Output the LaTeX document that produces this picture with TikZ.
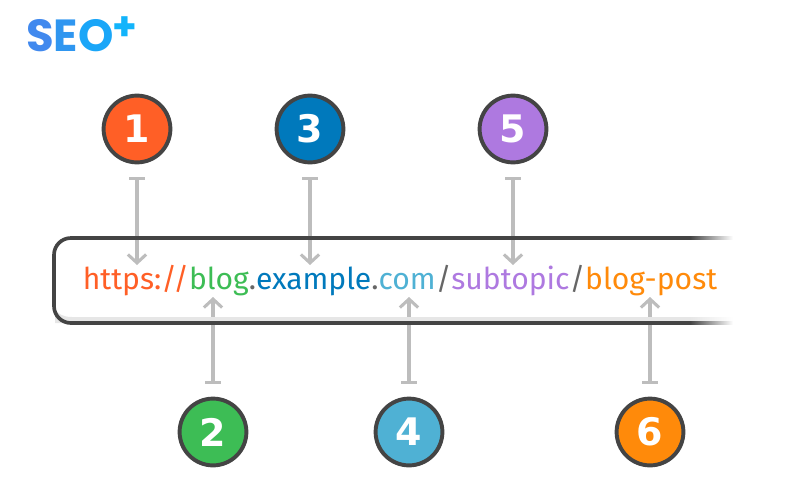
\documentclass[tikz,border=0pt]{standalone}
\usepackage{fontspec}
\usepackage{xcolor}
\usepackage{tikz}
\usetikzlibrary{arrows.meta}
\setmainfont{Fira Sans}
\newfontfamily\logofont{Poppins}
\newfontfamily\digitfont{DejaVu Sans}
\definecolor{edgedark}{HTML}{444444}
\definecolor{pointergray}{HTML}{BDBDBD}
\definecolor{bandgray}{HTML}{E6E6E6}
\definecolor{dotgray}{HTML}{666666}
\definecolor{partone}{HTML}{FF5F26}
\definecolor{parttwo}{HTML}{3DBD55}
\definecolor{partthree}{HTML}{0079BC}
\definecolor{partfour}{HTML}{4FB1D4}
\definecolor{partfive}{HTML}{AE79E0}
\definecolor{partsix}{HTML}{FF8A0A}
\tikzset{
    badge/.style = {circle, minimum size=47.5pt, inner sep=0pt, line width=2.8pt, draw=edgedark, text=white, font=\digitfont\bfseries\fontsize{27}{27}\selectfont},
    pointer/.style = {line width=2.2pt, draw=pointergray, {Bar[width=11pt,line width=2.2pt]}-{Straight Barb[length=6pt,width=13pt,line width=2.2pt]}, shorten <=9pt},
    barline/.style = {line width=2.6pt, draw=edgedark}
}

\begin{document}
\begin{tikzpicture}[x=0.025cm, y=-0.025cm]
\useasboundingbox (0,0) rectangle (800,500);

% logo
\node (logo) [inner sep=0pt, anchor=base west, font=\logofont\bfseries\fontsize{32}{32}\selectfont] at (26,51) {\textcolor[HTML]{4189EE}{S}\textcolor[HTML]{2F96F0}{E}\textcolor[HTML]{1AA6F8}{O}};
\node (plus) [inner sep=0pt, anchor=center, font=\logofont\bfseries\fontsize{28}{28}\selectfont] at (125,29) {\textcolor[HTML]{12B4FB}{+}};

% badges
\node (one) [badge, fill=partone] at (137,129) {1};
\node (three) [badge, fill=partthree] at (310,129) {3};
\node (five) [badge, fill=partfive] at (513,129) {5};
\node (two) [badge, fill=parttwo] at (213,432) {2};
\node (four) [badge, fill=partfour] at (409,432) {4};
\node (six) [badge, fill=partsix] at (650,432) {6};

% arrow tips
\coordinate (tipone) at (137,265);
\coordinate (tipthree) at (310,265);
\coordinate (tipfive) at (513,265);
\coordinate (tiptwo) at (213,297);
\coordinate (tipfour) at (409,297);
\coordinate (tipsix) at (650,297);

\draw [pointer] (one) -- (tipone);
\draw [pointer] (three) -- (tipthree);
\draw [pointer] (five) -- (tipfive);
\draw [pointer] (two) -- (tiptwo);
\draw [pointer] (four) -- (tipfour);
\draw [pointer] (six) -- (tipsix);

% address bar
\fill [bandgray] (690,317) -- (72,317) .. controls (63,317) and (58,314) .. (55,309) -- (55,323) -- (690,323) -- cycle;
\shade [left color=bandgray, right color=white] (690,317) rectangle (733,322);
\draw [barline, rounded corners=12pt] (690,238) -- (54,238) -- (54,323) -- (690,323);
\shade [left color=edgedark, right color=white] (690,236.2) rectangle (733,239.8);
\shade [left color=edgedark, right color=white] (690,321.2) rectangle (733,324.8);

\node (url) [inner sep=0pt, anchor=base, font=\fontsize{21.4}{21.4}\selectfont] at (400,289) {\textcolor{partone}{https://}\textcolor{parttwo}{blog}\textcolor{dotgray}{.}\textcolor{partthree}{example}\textcolor{dotgray}{.}\textcolor{partfour}{com}\textcolor{dotgray}{/}\textcolor{partfive}{subtopic}\textcolor{dotgray}{/}\textcolor{partsix}{blog-post}};
\end{tikzpicture}
\end{document}
